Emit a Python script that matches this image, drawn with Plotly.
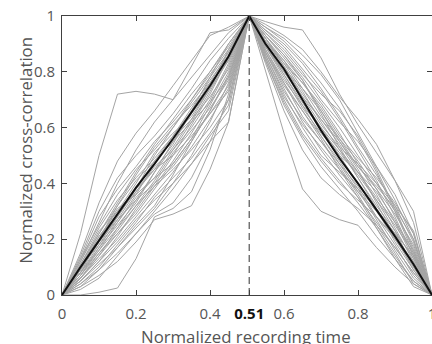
import plotly.graph_objects as go

# x positions of the sampled points (peak at normalized time 0.506, labelled 0.51)
peak_x = 0.506
x_left = [0.0, 0.05, 0.10, 0.15, 0.20, 0.25, 0.30, 0.35, 0.40, 0.45, peak_x]
x_right = [peak_x, 0.55, 0.60, 0.65, 0.70, 0.75, 0.80, 0.85, 0.90, 0.95, 1.0]

# individual recordings: interior values on the rising side (x = 0.05 .. 0.45)
rise = [
    [0.22, 0.50, 0.72, 0.73, 0.72, 0.70, 0.82, 0.94, 0.95],
    [0.00, 0.01, 0.025, 0.13, 0.28, 0.31, 0.37, 0.52, 0.72],
    [0.15, 0.33, 0.48, 0.58, 0.66, 0.75, 0.84, 0.93, 0.96],
    [0.12, 0.26, 0.40, 0.52, 0.62, 0.70, 0.78, 0.86, 0.94],
    [0.10, 0.22, 0.33, 0.44, 0.54, 0.63, 0.72, 0.80, 0.90],
    [0.08, 0.18, 0.28, 0.38, 0.48, 0.57, 0.66, 0.76, 0.87],
    [0.06, 0.14, 0.22, 0.30, 0.39, 0.48, 0.58, 0.69, 0.82],
    [0.05, 0.11, 0.17, 0.24, 0.31, 0.40, 0.50, 0.62, 0.76],
    [0.04, 0.09, 0.15, 0.22, 0.29, 0.33, 0.42, 0.55, 0.70],
    [0.03, 0.07, 0.12, 0.19, 0.27, 0.29, 0.32, 0.45, 0.62],
    [0.09, 0.20, 0.31, 0.36, 0.42, 0.52, 0.62, 0.73, 0.85],
    [0.11, 0.23, 0.30, 0.40, 0.51, 0.58, 0.64, 0.74, 0.88],
    [0.07, 0.16, 0.26, 0.35, 0.42, 0.47, 0.56, 0.68, 0.80],
    [0.13, 0.28, 0.38, 0.46, 0.55, 0.62, 0.70, 0.79, 0.88],
    [0.08, 0.17, 0.25, 0.33, 0.44, 0.55, 0.65, 0.74, 0.84],
    [0.06, 0.13, 0.20, 0.28, 0.36, 0.44, 0.53, 0.63, 0.74],
    [0.10, 0.21, 0.29, 0.37, 0.46, 0.52, 0.60, 0.70, 0.83],
    [0.05, 0.12, 0.21, 0.31, 0.40, 0.50, 0.61, 0.72, 0.85],
    [0.14, 0.30, 0.42, 0.50, 0.57, 0.65, 0.74, 0.84, 0.92],
    [0.09, 0.19, 0.27, 0.34, 0.40, 0.46, 0.55, 0.66, 0.78],
    [0.07, 0.15, 0.23, 0.32, 0.41, 0.51, 0.59, 0.67, 0.77],
    [0.04, 0.10, 0.18, 0.26, 0.35, 0.42, 0.49, 0.58, 0.68],
    [0.12, 0.24, 0.34, 0.42, 0.49, 0.57, 0.67, 0.77, 0.86],
    [0.06, 0.14, 0.24, 0.34, 0.44, 0.53, 0.63, 0.74, 0.86],
    [0.10, 0.18, 0.26, 0.36, 0.47, 0.56, 0.63, 0.71, 0.81],
    [0.02, 0.06, 0.14, 0.22, 0.30, 0.38, 0.47, 0.57, 0.66],
    [0.08, 0.20, 0.32, 0.41, 0.48, 0.55, 0.62, 0.69, 0.78],
    [0.11, 0.22, 0.32, 0.43, 0.53, 0.61, 0.68, 0.76, 0.84],
    [0.05, 0.12, 0.19, 0.27, 0.34, 0.40, 0.47, 0.55, 0.62],
    [0.09, 0.21, 0.30, 0.38, 0.45, 0.54, 0.66, 0.78, 0.90],
    [0.07, 0.17, 0.27, 0.37, 0.45, 0.50, 0.57, 0.65, 0.73],
    [0.13, 0.25, 0.36, 0.45, 0.52, 0.60, 0.70, 0.80, 0.89],
    [0.06, 0.15, 0.22, 0.29, 0.38, 0.47, 0.56, 0.65, 0.75],
    [0.03, 0.09, 0.17, 0.25, 0.32, 0.43, 0.55, 0.66, 0.79],
    [0.10, 0.19, 0.28, 0.38, 0.50, 0.60, 0.69, 0.78, 0.87],
    [0.08, 0.16, 0.24, 0.32, 0.39, 0.45, 0.52, 0.60, 0.70],
]

# interior values on the falling side (x = 0.55 .. 0.95)
fall = [
    [0.98, 0.96, 0.95, 0.85, 0.72, 0.61, 0.51, 0.41, 0.30],
    [0.80, 0.58, 0.38, 0.30, 0.27, 0.25, 0.17, 0.10, 0.04],
    [0.96, 0.92, 0.86, 0.79, 0.70, 0.58, 0.46, 0.34, 0.20],
    [0.93, 0.86, 0.78, 0.69, 0.60, 0.50, 0.40, 0.30, 0.17],
    [0.90, 0.80, 0.70, 0.60, 0.50, 0.40, 0.30, 0.20, 0.10],
    [0.87, 0.74, 0.62, 0.52, 0.43, 0.35, 0.26, 0.17, 0.08],
    [0.84, 0.68, 0.56, 0.46, 0.38, 0.30, 0.21, 0.13, 0.05],
    [0.94, 0.88, 0.80, 0.70, 0.62, 0.55, 0.46, 0.36, 0.22],
    [0.91, 0.83, 0.76, 0.68, 0.58, 0.47, 0.36, 0.24, 0.12],
    [0.89, 0.78, 0.67, 0.58, 0.50, 0.44, 0.37, 0.27, 0.14],
    [0.92, 0.82, 0.72, 0.63, 0.55, 0.45, 0.33, 0.21, 0.09],
    [0.86, 0.72, 0.60, 0.50, 0.44, 0.38, 0.31, 0.22, 0.11],
    [0.95, 0.90, 0.83, 0.74, 0.64, 0.53, 0.43, 0.32, 0.19],
    [0.88, 0.76, 0.64, 0.55, 0.47, 0.39, 0.28, 0.18, 0.07],
    [0.83, 0.66, 0.52, 0.42, 0.36, 0.31, 0.25, 0.17, 0.08],
    [0.90, 0.81, 0.74, 0.66, 0.56, 0.46, 0.39, 0.31, 0.20],
    [0.93, 0.85, 0.77, 0.65, 0.53, 0.42, 0.32, 0.23, 0.13],
    [0.87, 0.75, 0.66, 0.57, 0.48, 0.38, 0.27, 0.16, 0.06],
    [0.97, 0.93, 0.88, 0.80, 0.71, 0.63, 0.54, 0.41, 0.26],
    [0.85, 0.70, 0.58, 0.49, 0.41, 0.33, 0.24, 0.14, 0.05],
    [0.91, 0.84, 0.76, 0.67, 0.57, 0.49, 0.42, 0.33, 0.22],
    [0.89, 0.79, 0.69, 0.59, 0.51, 0.43, 0.34, 0.25, 0.15],
    [0.94, 0.87, 0.79, 0.72, 0.66, 0.57, 0.45, 0.31, 0.16],
    [0.86, 0.73, 0.63, 0.55, 0.46, 0.36, 0.25, 0.15, 0.04],
    [0.92, 0.83, 0.73, 0.62, 0.52, 0.44, 0.35, 0.26, 0.16],
    [0.88, 0.77, 0.68, 0.60, 0.52, 0.42, 0.31, 0.19, 0.09],
    [0.90, 0.79, 0.68, 0.57, 0.47, 0.37, 0.28, 0.20, 0.11],
    [0.95, 0.89, 0.81, 0.73, 0.63, 0.52, 0.41, 0.28, 0.14],
    [0.84, 0.69, 0.57, 0.48, 0.40, 0.34, 0.28, 0.21, 0.12],
    [0.91, 0.82, 0.71, 0.61, 0.53, 0.47, 0.40, 0.32, 0.23],
    [0.87, 0.76, 0.66, 0.56, 0.45, 0.35, 0.24, 0.13, 0.03],
    [0.93, 0.86, 0.77, 0.66, 0.55, 0.46, 0.38, 0.29, 0.18],
    [0.89, 0.80, 0.71, 0.63, 0.54, 0.44, 0.34, 0.23, 0.10],
    [0.92, 0.84, 0.74, 0.64, 0.56, 0.48, 0.38, 0.26, 0.13],
    [0.85, 0.71, 0.61, 0.53, 0.45, 0.37, 0.30, 0.22, 0.14],
    [0.96, 0.91, 0.84, 0.76, 0.67, 0.56, 0.44, 0.30, 0.15],
]

# average curve
mean_rise = [0.10, 0.195, 0.29, 0.385, 0.47, 0.56, 0.655, 0.75, 0.855]
mean_fall = [0.90, 0.81, 0.70, 0.59, 0.49, 0.40, 0.305, 0.21, 0.11]

x_ticks = [0, 0.2, 0.4, peak_x, 0.6, 0.8, 1]
x_ticktext = ["0", "0.2", "0.4", "<b><span style='color:#111111'>0.51</span></b>", "0.6", "0.8", "1"]
y_ticks = [0, 0.2, 0.4, 0.6, 0.8, 1]
y_ticktext = ["0", "0.2", "0.4", "0.6", "0.8", "1"]
x_title = "Normalized recording time"
y_title = "Normalized cross-correlation"

x_all = x_left + x_right[1:]

fig = go.Figure()
for r, f in zip(rise, fall):
    y = [0.0] + r + [1.0] + f + [0.0]
    fig.add_trace(go.Scatter(x=x_all, y=y, mode="lines",
                             line=dict(color="#a4a4a4", width=1),
                             hoverinfo="skip", showlegend=False))

fig.add_trace(go.Scatter(x=[peak_x, peak_x], y=[0, 1], mode="lines",
                         line=dict(color="#555555", width=1.2, dash="7px,4px"),
                         showlegend=False))

fig.add_trace(go.Scatter(x=x_all, y=[0.0] + mean_rise + [1.0] + mean_fall + [0.0],
                         mode="lines", line=dict(color="#111111", width=2),
                         showlegend=False))

axis_common = dict(
    showgrid=False, zeroline=False, showline=True, linecolor="#404040", linewidth=1,
    mirror="ticks", ticks="inside", ticklen=5, tickwidth=1, tickcolor="#404040",
    tickfont=dict(family="Open Sans", size=15, color="#555555"),
    automargin=False, ticklabeloverflow="allow",
)

title_font = dict(family="Open Sans", size=16.8, color="#555555")

fig.update_layout(
    template="none",
    width=432, height=344,
    margin=dict(l=62, r=0, t=16, b=49),
    paper_bgcolor="white", plot_bgcolor="white",
    font=dict(family="Open Sans", color="#555555"),
    xaxis=dict(range=[0, 1], tickvals=x_ticks, ticktext=x_ticktext,
               ticklabelstandoff=5, **axis_common),
    yaxis=dict(range=[0, 1], tickvals=y_ticks, ticktext=y_ticktext,
               ticklabelstandoff=3, **axis_common),
    annotations=[
        dict(text=x_title, xref="paper", yref="paper", x=0.497, y=-0.148,
             xanchor="center", yanchor="middle", showarrow=False, font=title_font),
        dict(text=y_title, xref="paper", yref="paper", x=-0.098, y=0.52,
             xanchor="center", yanchor="middle", textangle=-90, showarrow=False,
             font=title_font),
    ],
)

fig.write_html("out.html", config={"displayModeBar": False},
               post_script="document.body.style.margin='0';document.body.style.overflow='hidden';")
